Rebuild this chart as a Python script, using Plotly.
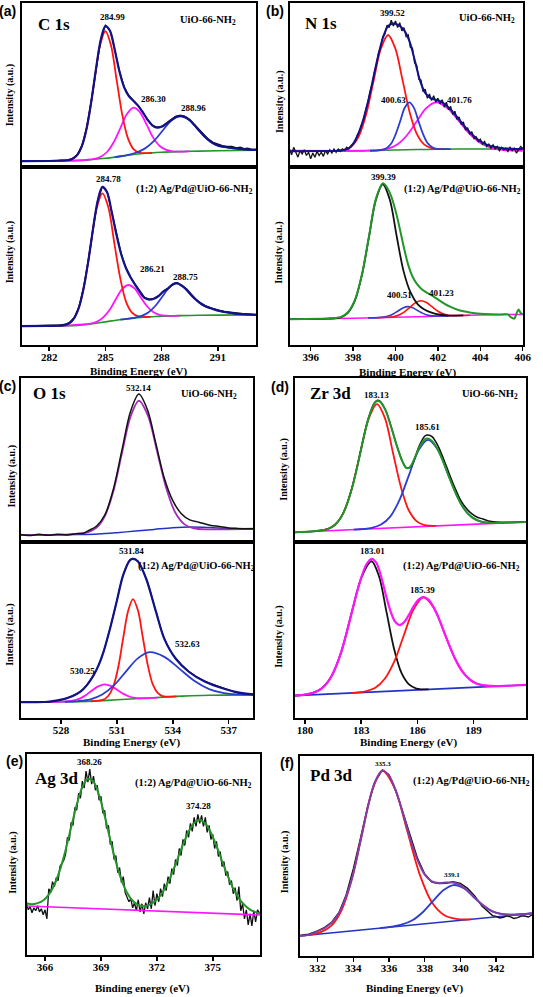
import plotly.graph_objects as go

# ---------------- (a) C 1s : UiO-66-NH2 (top) ----------------
A1_BASE_E = [280.53, 283.0, 284.0, 285.0, 286.0, 287.0, 288.0, 289.0, 290.0, 291.0, 293.05]
A1_BASE_Y = [3.6, 3.8, 4.2, 5.3, 6.8, 8.2, 9.0, 9.4, 9.7, 9.9, 10.3]
A1_RED_E = [282.5, 283.2, 283.5, 283.8, 284.1, 284.4, 284.7, 285.0, 285.3, 285.6, 285.9, 286.2, 286.5, 286.8, 287.5]
A1_RED_Y = [3.8, 4.8, 7.4, 14.6, 29.5, 51.6, 73.4, 82.8, 74.1, 53.1, 31.8, 17.6, 10.9, 8.8, 8.6]
A1_MAG_E = [280.53, 283.5, 284.4, 284.75, 285.1, 285.45, 285.8, 286.15, 286.5, 286.85, 287.2, 287.55, 287.9, 288.25, 288.6, 289.5]
A1_MAG_Y = [3.6, 4.0, 4.9, 6.3, 9.3, 15.2, 23.7, 32.3, 36.2, 33.3, 25.8, 17.9, 12.8, 10.4, 9.5, 9.55]
A1_BLUE_E = [285.5, 286.15, 286.62, 287.1, 287.57, 288.05, 288.52, 289.0, 289.48, 289.95, 290.43, 290.9, 291.38, 291.85, 292.5, 293.05]
A1_BLUE_Y = [6.0, 7.2, 8.7, 11.2, 15.6, 22.1, 28.3, 31.0, 28.7, 22.9, 17.0, 13.5, 12.2, 11.3, 10.6, 10.4]
A1_ENV_E = [280.53, 282.5, 283.0, 283.25, 283.5, 283.75, 284.0, 284.25, 284.5, 284.75, 285.0, 285.25, 285.5, 285.75, 286.0,
            286.25, 286.5, 286.75, 287.0, 287.25, 287.5, 287.75, 288.0, 288.25, 288.5, 288.75, 289.0, 289.25, 289.5,
            289.75, 290.0, 290.25, 290.5, 290.75, 291.0, 291.25, 291.5, 292.0, 292.5, 293.05]
A1_ENV_Y = [3.6, 3.8, 4.1, 5.0, 7.4, 12.9, 23.6, 40.2, 60.0, 77.5, 85.9, 82.9, 71.4, 58.2, 48.6,
            43.3, 40.3, 37.3, 33.3, 28.8, 25.4, 24.0, 24.5, 26.3, 28.5, 30.4, 31.0, 30.4, 28.55,
            25.55, 22.3, 19.15, 16.5, 14.45, 13.2, 12.45, 12.0, 11.3, 10.8, 10.6]
A1_DATA_E = [280.53, 282.5, 283.0, 283.25, 283.5, 283.75, 284.0, 284.25, 284.5, 284.75, 285.0, 285.25, 285.5, 285.75, 286.0,
             286.25, 286.5, 286.75, 287.0, 287.25, 287.5, 287.75, 288.0, 288.25, 288.5, 288.75, 289.0, 289.25, 289.5,
             289.75, 290.0, 290.25, 290.5, 290.75, 291.0, 291.25, 291.5, 291.75, 292.0, 292.2, 292.4, 292.6, 292.8, 293.05]
A1_DATA_Y = [3.4, 3.9, 4.2, 5.1, 7.5, 13.0, 23.8, 40.5, 60.3, 77.8, 86.4, 83.2, 71.6, 58.5, 48.9,
             43.6, 40.5, 37.6, 33.5, 29.0, 25.6, 24.2, 24.7, 26.5, 28.8, 30.8, 31.5, 30.8, 29.0,
             26.0, 22.8, 19.6, 17.0, 15.0, 13.9, 13.0, 12.6, 12.5, 11.6, 12.0, 11.2, 11.4, 10.7, 10.6]

# ---------------- (a) C 1s : (1:2) Ag/Pd@UiO-66-NH2 (bottom) ----------------
A2_BASE_E = [280.53, 282.0, 283.0, 283.5, 284.0, 284.5, 285.0, 285.5, 286.0, 286.5, 287.0, 287.5, 288.0, 289.0, 290.0, 291.0, 293.05]
A2_BASE_Y = [10.6, 10.7, 10.8, 11.0, 11.5, 12.2, 13.0, 13.8, 14.5, 15.1, 15.6, 15.9, 16.2, 16.5, 16.7, 16.8, 16.9]
A2_RED_E = [282.3, 282.95, 283.26, 283.58, 283.89, 284.21, 284.52, 284.84, 285.16, 285.47, 285.79, 286.1, 286.42, 286.73, 287.4]
A2_RED_Y = [10.7, 11.6, 14.1, 20.9, 34.9, 55.7, 76.1, 85.2, 77.2, 57.7, 37.7, 24.4, 18.2, 16.2, 15.85]
A2_MAG_E = [282.5, 284.2, 284.53, 284.87, 285.21, 285.54, 285.87, 286.21, 286.55, 286.88, 287.21, 287.55, 287.89, 288.22, 289.0]
A2_MAG_Y = [10.75, 12.0, 13.0, 15.4, 19.5, 25.4, 31.1, 33.7, 31.9, 26.9, 21.9, 18.5, 16.9, 16.45, 16.5]
A2_BLUE_E = [285.8, 286.54, 286.91, 287.29, 287.66, 288.04, 288.41, 288.79, 289.17, 289.54, 289.92, 290.29, 290.67, 291.04, 291.5, 292.0, 292.5, 293.05]
A2_BLUE_Y = [14.3, 15.3, 16.25, 18.25, 21.9, 27.2, 32.45, 34.65, 32.6, 28.5, 24.6, 22.0, 20.5, 19.3, 18.3, 17.6, 17.2, 17.0]
A2_ENV_E = [280.53, 281.84, 282.34, 282.59, 282.84, 283.09, 283.34, 283.59, 283.84, 284.09, 284.34, 284.59, 284.84, 285.09,
            285.34, 285.59, 285.84, 286.09, 286.34, 286.59, 286.84, 287.09, 287.34, 287.59, 287.84, 288.09, 288.34, 288.59,
            288.84, 289.09, 289.34, 289.59, 289.84, 290.09, 290.34, 290.59, 290.84, 291.09, 291.34, 291.59, 291.84, 292.34,
            292.84, 293.05]
A2_ENV_Y = [10.6, 10.7, 10.8, 10.9, 11.3, 12.35, 15.2, 21.2, 32.0, 47.3, 65.2, 81.0, 88.8, 85.8,
            74.55, 61.9, 51.15, 43.4, 38.1, 33.8, 29.8, 26.5, 25.5, 26.0, 27.5, 30.0, 31.65, 34.0,
            34.7, 33.2, 31.1, 28.0, 25.4, 23.3, 21.8, 20.8, 19.9, 19.2, 18.65, 18.2, 17.8, 17.3,
            17.05, 17.0]
A2_DATA_Y = [10.5, 10.8, 11.0, 11.3, 11.5, 12.6, 15.4, 21.4, 32.2, 47.5, 65.4, 81.2, 89.0, 86.0,
             74.8, 62.1, 51.3, 43.6, 38.3, 34.0, 30.0, 26.7, 25.7, 26.2, 27.7, 30.2, 31.8, 34.2,
             35.0, 33.5, 31.3, 28.2, 25.6, 23.5, 22.0, 21.0, 20.1, 19.4, 18.8, 18.5, 17.9, 17.6,
             17.2, 16.9]

# ---------------- (b) N 1s : UiO-66-NH2 (top) ----------------
B1_BASE_E = [395.0, 397.0, 398.0, 399.0, 400.0, 401.0, 402.0, 403.0, 406.0]
B1_BASE_Y = [9.6, 9.7, 9.8, 10.0, 10.3, 10.6, 10.8, 11.0, 11.0]
B1_MAG_E = [395.0, 398.5, 399.2, 399.65, 400.1, 400.55, 401.0, 401.45, 401.9, 402.45, 403.0, 403.55, 404.1, 404.65, 405.2, 406.0]
B1_MAG_Y = [9.9, 9.9, 10.2, 11.2, 13.9, 19.5, 27.8, 35.9, 39.4, 35.9, 27.8, 19.5, 13.9, 11.2, 10.2, 9.9]
B1_RED_E = [396.9, 397.61, 397.95, 398.29, 398.63, 398.97, 399.31, 399.65, 399.99, 400.33, 400.67, 401.01, 401.35, 401.69, 402.4]
B1_RED_Y = [9.7, 10.55, 12.9, 19.35, 32.7, 52.7, 72.1, 80.5, 72.3, 53.1, 33.3, 20.1, 13.8, 11.55, 10.9]
B1_BLUE_E = [398.8, 399.36, 399.57, 399.79, 400.0, 400.22, 400.43, 400.65, 400.87, 401.08, 401.3, 401.51, 401.73, 401.94, 402.6]
B1_BLUE_Y = [9.9, 10.4, 11.5, 14.15, 19.7, 27.85, 35.95, 39.4, 36.05, 28.1, 20.1, 14.65, 12.1, 11.1, 10.9]
B1_ENV_E = [395.0, 396.65, 397.15, 397.4, 397.65, 397.9, 398.15, 398.4, 398.65, 398.9, 399.15, 399.4, 399.65, 399.9,
            400.15, 400.4, 400.65, 400.9, 401.15, 401.4, 401.65, 401.9, 402.15, 402.4, 402.65, 402.9, 403.15, 403.4,
            403.65, 403.9, 404.15, 404.4, 404.65, 404.9, 405.15, 405.4, 405.65, 406.0]
B1_ENV_Y = [9.6, 9.7, 9.8, 10.05, 10.65, 12.4, 17.5, 25.5, 37.0, 51.0, 66.0, 78.5, 86.0, 87.5,
            86.5, 83.5, 77.0, 65.5, 53.0, 45.2, 42.0, 41.0, 39.85, 37.5, 34.35, 30.5, 26.5, 22.6,
            19.3, 16.6, 14.6, 13.2, 12.3, 11.7, 11.35, 11.2, 11.05, 11.0]
B1_DATA_E = [395.0, 395.1, 395.2, 395.3, 395.4, 395.5, 395.6, 395.7, 395.8, 395.9,
             396.0, 396.1, 396.2, 396.3, 396.4, 396.5, 396.6, 396.7, 396.8, 396.9,
             397.0, 397.1, 397.2, 397.3, 397.4, 397.5, 397.6, 397.7, 397.8, 397.9,
             398.0, 398.1, 398.2, 398.3, 398.4, 398.5, 398.6, 398.7, 398.8, 398.9,
             399.0, 399.1, 399.2, 399.3, 399.4, 399.5, 399.6, 399.7, 399.8, 399.9,
             400.0, 400.1, 400.2, 400.3, 400.4, 400.5, 400.6, 400.7, 400.8, 400.9,
             401.0, 401.1, 401.2, 401.3, 401.4, 401.5, 401.6, 401.7, 401.8, 401.9,
             402.0, 402.1, 402.2, 402.3, 402.4, 402.5, 402.6, 402.7, 402.8, 402.9,
             403.0, 403.1, 403.2, 403.3, 403.4, 403.5, 403.6, 403.7, 403.8, 403.9,
             404.0, 404.1, 404.2, 404.3, 404.4, 404.5, 404.6, 404.7, 404.8, 404.9,
             405.0, 405.1, 405.2, 405.3, 405.4, 405.5, 405.6, 405.7, 405.8, 405.9,
             406.0]
B1_DATA_Y = [11.0, 7.5, 12.0, 8.5, 6.0, 10.0, 8.0, 10.5, 7.0, 9.0,
             5.0, 8.5, 6.0, 9.5, 7.0, 9.0, 6.5, 10.0, 8.0, 10.5,
             8.5, 11.0, 9.0, 11.0, 9.5, 11.0, 10.0, 12.0, 11.0, 13.0,
             14.5, 15.5, 19.5, 21.5, 26.0, 29.0, 35.0, 39.5, 46.0, 50.5,
             57.5, 62.5, 69.5, 73.0, 79.5, 81.0, 86.5, 85.0, 89.5, 86.0,
             89.0, 85.0, 88.0, 83.0, 85.0, 79.5, 80.5, 73.0, 72.5, 63.5,
             62.0, 53.5, 53.0, 46.0, 47.5, 42.0, 44.5, 40.5, 43.5, 39.5,
             42.0, 38.5, 41.0, 36.5, 39.5, 35.0, 37.0, 32.0, 34.0, 29.0,
             30.5, 26.0, 27.5, 22.5, 24.0, 20.0, 21.5, 17.5, 18.5, 15.5,
             17.0, 14.0, 15.5, 12.5, 14.0, 11.5, 13.5, 11.0, 12.5, 10.0,
             12.0, 10.5, 11.5, 9.5, 12.0, 10.0, 11.5, 8.5, 10.5, 12.5,
             11.5]

# ---------------- (b) N 1s : (1:2) Ag/Pd@UiO-66-NH2 (bottom) ----------------
B2_BASE_E = [395.0, 398.0, 399.0, 400.0, 401.0, 402.0, 403.0, 404.0, 406.0]
B2_BASE_Y = [14.5, 15.0, 15.3, 15.6, 15.9, 16.2, 16.6, 16.9, 17.2]
B2_BLACK_E = [395.0, 396.8, 397.44, 397.76, 398.09, 398.42, 398.75, 399.07, 399.4, 399.73, 400.05, 400.38, 400.71, 401.04, 401.36, 401.7, 402.1, 402.5, 403.2]
B2_BLACK_Y = [14.5, 14.8, 15.7, 18.25, 25.1, 39.5, 60.7, 81.4, 90.3, 81.7, 61.5, 41.5, 29.5, 23.0, 20.0, 18.2, 17.0, 16.5, 16.6]
B2_BLUE_E = [398.7, 399.2, 399.43, 399.66, 399.89, 400.12, 400.35, 400.58, 400.81, 401.04, 401.27, 401.5, 401.73, 401.96, 402.5]
B2_BLUE_Y = [15.2, 15.36, 15.66, 16.23, 17.4, 19.1, 20.8, 21.55, 20.9, 19.4, 17.9, 16.83, 16.36, 16.26, 16.35]
B2_RED_E = [399.1, 399.64, 399.9, 400.16, 400.42, 400.68, 400.94, 401.2, 401.46, 401.72, 401.98, 402.24, 402.5, 402.76, 403.5]
B2_RED_Y = [15.35, 15.55, 15.9, 16.8, 18.6, 21.2, 23.7, 24.85, 23.9, 21.5, 19.1, 17.5, 16.75, 16.55, 16.75]
B2_ENV_E = [395.0, 396.5, 397.0, 397.44, 397.76, 398.09, 398.42, 398.75, 399.07, 399.4, 399.6, 399.8, 400.0, 400.2,
            400.4, 400.6, 400.8, 401.0, 401.2, 401.4, 401.6, 401.8, 402.0, 402.3, 402.6, 403.0, 403.5, 404.0,
            404.5, 405.0, 405.3, 405.45, 405.6, 405.7, 405.8, 405.9, 406.0]
B2_ENV_Y = [14.5, 14.7, 14.9, 15.8, 18.4, 25.3, 39.7, 61.0, 81.8, 90.8, 88.5, 83.5, 75.5, 65.5,
            54.5, 45.0, 38.5, 34.5, 31.8, 30.0, 28.6, 27.2, 25.6, 23.3, 21.4, 19.5, 18.3, 17.6,
            17.3, 17.2, 17.2, 15.5, 14.8, 17.5, 20.0, 18.0, 17.3]

# ---------------- (c) O 1s : UiO-66-NH2 (top) ----------------
C1_BASE_E = [525.83, 529.0, 530.0, 531.0, 532.0, 533.0, 534.0, 535.0, 536.0, 537.0, 538.32]
C1_BASE_Y = [4.0, 4.3, 4.6, 5.4, 6.4, 7.4, 8.4, 8.8, 8.5, 8.0, 7.8]
C1_FIT_E = [525.83, 528.5, 529.45, 529.91, 530.36, 530.82, 531.27, 531.73, 532.18, 532.67, 533.16, 533.65, 534.14, 534.63, 535.12, 536.0, 538.32]
C1_FIT_Y = [4.0, 4.4, 5.8, 8.5, 15.75, 31.25, 54.05, 76.35, 86.1, 76.8, 54.95, 32.6, 17.55, 10.45, 8.0, 7.4, 7.8]
C1_DATA_E = [525.83, 526.3, 526.8, 527.3, 527.8, 528.3, 528.8, 529.2, 529.45, 529.91, 530.36, 530.82, 531.27, 531.73,
             532.18, 532.64, 533.09, 533.55, 534.0, 534.46, 534.91, 535.4, 536.0, 536.5, 537.0, 537.5, 538.32]
C1_DATA_Y = [4.3, 3.6, 4.4, 3.8, 4.5, 4.0, 4.8, 5.0, 6.5, 9.5, 16.5, 32.5, 56.0, 79.5,
             90.2, 80.5, 60.0, 38.5, 25.0, 17.0, 13.2, 11.8, 10.0, 9.2, 8.3, 8.0, 7.8]

# ---------------- (c) O 1s : (1:2) Ag/Pd@UiO-66-NH2 (bottom) ----------------
C2_BASE_E = [525.83, 528.0, 529.0, 530.0, 531.0, 532.0, 533.0, 534.0, 535.0, 536.0, 538.32]
C2_BASE_Y = [9.0, 9.2, 9.3, 9.7, 10.3, 10.9, 11.5, 12.1, 12.6, 12.9, 13.1]
C2_RED_E = [529.6, 530.27, 530.53, 530.8, 531.07, 531.33, 531.6, 531.86, 532.13, 532.39, 532.66, 532.92, 533.19, 533.45, 534.2]
C2_RED_Y = [9.5, 10.4, 12.45, 17.7, 28.75, 44.9, 60.6, 67.4, 60.85, 45.6, 29.8, 19.15, 14.2, 12.4, 12.2]
C2_BLUE_E = [528.2, 528.94, 529.58, 530.21, 530.85, 531.48, 532.12, 532.75, 533.55, 534.35, 535.15, 535.95, 536.75, 537.55, 538.32]
C2_BLUE_Y = [9.2, 9.6, 10.6, 13.3, 18.6, 26.3, 33.8, 37.3, 34.65, 28.0, 21.1, 16.4, 14.1, 13.35, 13.15]
C2_MAG_E = [527.2, 528.18, 528.54, 528.89, 529.25, 529.6, 529.96, 530.31, 530.67, 531.02, 531.38, 531.73, 532.09, 532.44, 533.2]
C2_MAG_Y = [9.1, 9.3, 9.65, 10.5, 12.4, 15.1, 17.75, 19.1, 18.2, 15.9, 13.5, 11.9, 11.3, 11.2, 11.6]
C2_ENV_E = [525.83, 527.28, 528.16, 528.6, 529.04, 529.4, 529.75, 530.0, 530.28, 530.63, 530.98, 531.33, 531.69, 531.86,
            532.13, 532.57, 533.1, 533.54, 534.15, 534.86, 535.74, 536.8, 537.5, 538.32]
C2_ENV_Y = [9.0, 9.2, 10.7, 12.3, 14.9, 18.8, 24.3, 29.5, 37.5, 50.7, 65.7, 80.8, 89.3, 90.2,
            88.7, 78.9, 60.1, 45.0, 33.7, 26.2, 20.5, 16.4, 14.5, 13.4]
C2_DATA_Y = [9.2, 9.0, 10.9, 12.5, 15.0, 18.9, 24.4, 29.6, 37.6, 50.8, 65.8, 80.9, 89.5, 90.4,
             88.9, 79.0, 60.3, 45.2, 33.9, 26.4, 20.8, 16.7, 14.2, 13.6]

# ---------------- (d) Zr 3d : UiO-66-NH2 (top) ----------------
D1_BASE_E = [179.44, 191.81]
D1_BASE_Y = [5.7, 12.0]
D1_RED_E = [180.6, 181.14, 181.59, 182.04, 182.49, 182.94, 183.39, 183.84, 184.27, 184.69, 185.12, 185.54, 185.97, 186.39, 187.0]
D1_RED_Y = [6.3, 7.4, 10.1, 17.3, 31.95, 53.7, 74.8, 84.0, 75.3, 54.6, 33.3, 19.1, 12.3, 10.0, 9.6]
D1_BLUE_E = [182.6, 183.56, 184.06, 184.56, 185.06, 185.56, 186.06, 186.56, 187.09, 187.61, 188.14, 188.66, 189.19, 189.71, 190.6]
D1_BLUE_Y = [7.3, 8.4, 10.35, 15.4, 25.8, 40.9, 55.8, 62.2, 56.3, 42.0, 27.3, 17.5, 13.0, 11.5, 11.4]
D1_ENV_E = [179.44, 180.5, 181.0, 181.3, 181.6, 181.9, 182.2, 182.5, 182.8, 183.1, 183.4, 183.7, 183.84, 184.0,
            184.3, 184.6, 184.9, 185.2, 185.4, 185.6, 185.8, 186.1, 186.4, 186.56, 186.8, 187.1, 187.4, 187.7,
            188.0, 188.3, 188.6, 188.9, 189.2, 189.5, 189.8, 190.2, 190.8, 191.81]
D1_ENV_Y = [5.7, 6.3, 7.0, 8.05, 10.2, 14.35, 21.6, 32.4, 46.4, 62.1, 75.8, 84.4, 85.9, 85.6,
            80.2, 70.0, 58.5, 49.0, 45.0, 45.5, 49.5, 57.5, 62.5, 63.0, 61.25, 56.0, 48.2, 39.2,
            30.8, 23.6, 18.4, 14.9, 13.0, 11.9, 11.4, 11.3, 11.5, 12.0]
D1_DATA_Y = [5.5, 6.2, 7.1, 8.0, 10.3, 14.4, 21.8, 32.6, 46.6, 62.3, 76.0, 84.7, 86.3, 85.9,
             80.4, 70.2, 58.8, 49.0, 45.2, 45.2, 49.0, 58.5, 64.5, 65.2, 64.0, 58.5, 50.5, 41.5,
             33.0, 25.5, 20.5, 17.0, 14.8, 13.8, 12.6, 12.0, 11.7, 12.1]

# ---------------- (d) Zr 3d : (1:2) Ag/Pd@UiO-66-NH2 (bottom) ----------------
D2_BASE_E = [179.44, 191.81]
D2_BASE_Y = [12.7, 18.75]
D2_BLACK_E = [179.44, 180.34, 180.88, 181.41, 181.95, 182.48, 183.02, 183.55, 183.95, 184.35, 184.75, 185.15, 185.55, 185.95, 186.6]
D2_BLACK_Y = [12.7, 13.95, 16.7, 23.66, 38.0, 59.2, 79.85, 88.8, 80.3, 60.1, 39.4, 25.5, 19.0, 16.7, 16.2]
D2_RED_E = [182.5, 183.23, 183.75, 184.26, 184.78, 185.29, 185.81, 186.32, 186.88, 187.44, 188.0, 188.56, 189.12, 189.68, 190.5]
D2_RED_Y = [14.2, 15.15, 17.1, 22.2, 32.3, 47.3, 61.9, 68.4, 62.4, 48.3, 33.9, 24.3, 19.7, 18.3, 18.1]
D2_ENV_E = [179.44, 180.0, 180.34, 180.61, 180.88, 181.15, 181.41, 181.68, 181.95, 182.22, 182.48, 182.75, 183.02, 183.28,
            183.55, 183.8, 184.05, 184.3, 184.55, 184.8, 185.05, 185.3, 185.55, 185.8, 186.05, 186.32, 186.6, 186.88,
            187.16, 187.44, 187.72, 188.0, 188.28, 188.56, 188.84, 189.12, 189.4, 189.68, 190.2, 190.8, 191.81]
D2_ENV_Y = [12.7, 13.27, 13.95, 14.97, 16.7, 19.5, 23.66, 29.9, 38.0, 48.3, 59.2, 70.4, 80.15, 87.1,
            90.2, 88.0, 80.6, 70.3, 61.0, 54.7, 52.65, 54.4, 58.5, 63.2, 66.9, 68.55, 66.9, 62.4,
            56.0, 48.3, 40.75, 33.9, 28.3, 24.3, 21.5, 19.7, 18.8, 18.3, 18.05, 18.25, 18.75]

# ---------------- (e) Ag 3d ----------------
E_BASE_E = [365.0, 377.54]
E_BASE_Y = [24.4, 19.9]
E_FIT_E = [365.0, 365.3, 365.6, 365.9, 366.2, 366.5, 366.8, 367.1, 367.4, 367.7,
           368.0, 368.3, 368.6, 368.9, 369.2, 369.5, 369.8, 370.1, 370.4, 370.7,
           371.0, 371.3, 371.6, 371.9, 372.2, 372.5, 372.8, 373.1, 373.4, 373.7,
           374.0, 374.3, 374.6, 374.9, 375.2, 375.5, 375.8, 376.1, 376.4, 376.7,
           377.0, 377.3, 377.54]
E_FIT_Y = [25.8, 25.2, 25.8, 27.1, 30.0, 34.95, 42.35, 52.15, 63.55, 74.8,
           83.5, 87.7, 86.2, 79.5, 69.1, 57.3, 46.3, 37.4, 31.0, 27.0,
           24.9, 24.3, 24.9, 26.7, 29.7, 34.3, 40.4, 47.5, 54.9, 61.3,
           65.7, 67.2, 65.45, 60.85, 54.25, 46.65, 39.35, 33.0, 28.2, 24.9,
           22.6, 21.3, 20.6]
E_DATA_E = [365.0, 365.1, 365.2, 365.3, 365.4, 365.5, 365.6, 365.7, 365.8, 365.9,
            366.0, 366.1, 366.2, 366.3, 366.4, 366.5, 366.6, 366.7, 366.8, 366.9,
            367.0, 367.1, 367.2, 367.3, 367.4, 367.5, 367.6, 367.7, 367.8, 367.9,
            368.0, 368.1, 368.2, 368.3, 368.4, 368.5, 368.6, 368.7, 368.8, 368.9,
            369.0, 369.1, 369.2, 369.3, 369.4, 369.5, 369.6, 369.7, 369.8, 369.9,
            370.0, 370.1, 370.2, 370.3, 370.4, 370.5, 370.6, 370.7, 370.8, 370.9,
            371.0, 371.1, 371.2, 371.3, 371.4, 371.5, 371.6, 371.7, 371.8, 371.9,
            372.0, 372.1, 372.2, 372.3, 372.4, 372.5, 372.6, 372.7, 372.8, 372.9,
            373.0, 373.1, 373.2, 373.3, 373.4, 373.5, 373.6, 373.7, 373.8, 373.9,
            374.0, 374.1, 374.2, 374.3, 374.4, 374.5, 374.6, 374.7, 374.8, 374.9,
            375.0, 375.1, 375.2, 375.3, 375.4, 375.5, 375.6, 375.7, 375.8, 375.9,
            376.0, 376.1, 376.2, 376.3, 376.4, 376.5, 376.6, 376.7, 376.8, 376.9,
            377.0, 377.1, 377.2, 377.3, 377.4, 377.5]
E_DATA_Y = [26.0, 22.5, 24.0, 21.0, 23.5, 22.0, 24.5, 21.5, 23.0, 20.0,
            22.5, 18.0, 33.0, 31.0, 36.5, 34.0, 38.5, 37.0, 44.0, 45.5,
            47.0, 50.0, 58.5, 57.0, 66.0, 64.5, 73.5, 72.0, 80.5, 78.0,
            86.5, 83.0, 91.5, 86.0, 92.5, 85.0, 89.0, 82.0, 84.5, 77.0,
            79.0, 70.5, 72.0, 63.0, 64.5, 55.0, 56.5, 47.5, 49.5, 41.0,
            43.5, 36.0, 39.0, 31.0, 29.0, 26.5, 28.0, 23.5, 26.0, 22.0,
            27.5, 21.5, 25.5, 20.5, 26.0, 23.0, 28.5, 23.0, 32.0, 24.5,
            30.5, 26.5, 33.0, 29.0, 35.5, 32.0, 39.0, 35.5, 43.0, 40.0,
            47.5, 44.5, 53.0, 49.5, 57.5, 54.5, 62.0, 58.5, 65.5, 61.5,
            68.5, 64.0, 70.0, 65.5, 69.5, 64.0, 68.5, 61.0, 64.5, 57.5,
            60.0, 53.0, 56.5, 49.0, 51.5, 44.0, 46.5, 39.5, 41.5, 35.0,
            37.0, 30.5, 33.5, 27.0, 34.0, 22.0, 25.5, 18.0, 22.5, 15.0,
            20.5, 14.5, 22.0, 16.5, 22.5, 21.0]

# ---------------- (f) Pd 3d ----------------
F_BASE_E = [330.99, 344.0]
F_BASE_Y = [10.0, 21.3]
F_RED_E = [331.5, 332.18, 332.76, 333.33, 333.91, 334.48, 335.06, 335.63, 336.32, 337.01, 337.7, 338.39, 339.08, 339.77, 340.6]
F_RED_Y = [10.5, 11.93, 15.03, 22.62, 38.03, 60.62, 82.73, 92.53, 83.83, 62.83, 41.32, 27.02, 20.52, 18.52, 18.3]
F_BLUE_E = [335.5, 336.16, 336.74, 337.31, 337.89, 338.46, 339.04, 339.61, 340.19, 340.76, 341.34, 341.91, 342.49, 343.06, 344.0]
F_BLUE_Y = [13.9, 14.69, 15.79, 17.89, 21.89, 27.39, 32.89, 35.48, 33.89, 29.38, 24.88, 21.88, 20.78, 20.68, 21.3]
F_ENV_E = [330.99, 331.5, 332.0, 332.4, 332.8, 333.2, 333.6, 334.0, 334.4, 334.8, 335.2, 335.63, 336.0, 336.4,
           336.8, 337.2, 337.6, 338.0, 338.4, 338.8, 339.2, 339.6, 340.0, 340.4, 340.8, 341.2, 341.6, 342.0,
           342.4, 342.8, 343.2, 343.6, 344.0]
F_ENV_Y = [10.0, 10.55, 12.3, 14.0, 16.8, 21.5, 29.8, 41.3, 57.3, 73.8, 86.85, 92.8, 90.2, 82.3,
           70.75, 58.4, 47.9, 40.7, 37.35, 36.5, 36.7, 36.7, 35.3, 32.6, 29.0, 25.8, 23.2, 21.65,
           20.9, 20.65, 20.75, 21.0, 21.3]
F_DATA_E = [330.99, 331.5, 332.0, 332.4, 332.8, 333.2, 333.6, 334.0, 334.4, 334.8, 335.2, 335.63, 336.0, 336.4,
            336.8, 337.2, 337.6, 338.0, 338.4, 338.8, 339.2, 339.6, 340.0, 340.4, 340.8, 341.2, 341.6, 341.8,
            342.0, 342.2, 342.4, 342.6, 342.8, 343.0, 343.2, 343.4, 343.6, 343.8, 344.0]
F_DATA_Y = [10.3, 10.9, 12.6, 14.3, 17.0, 21.8, 30.5, 43.5, 58.8, 74.5, 86.8, 93.0, 90.6, 82.0,
            71.3, 59.5, 48.8, 41.0, 37.0, 36.2, 36.4, 37.2, 36.3, 33.8, 30.0, 25.0, 21.6, 20.2,
            19.8, 19.0, 19.3, 20.1, 19.6, 18.8, 19.2, 20.0, 20.0, 19.5, 20.5]

# tick values
A_TICKS = [282, 285, 288, 291]
B_TICKS = [396, 398, 400, 402, 404, 406]
C_TICKS = [528, 531, 534, 537]
D_TICKS = [180, 183, 186, 189]
E_TICKS = [366, 369, 372, 375]
F_TICKS = [332, 334, 336, 338, 340, 342]

# ------------------------------------------------------------------
W, H = 543, 997
SERIF = "Liberation Serif"
SANS = "Liberation Sans"
NAVY = "#12128a"
RED = "#ff1414"
MAG = "#ff14ff"
BLUE = "#2a3cd2"
GREEN = "#22962a"
BLACK = "#111111"
PURPLE = "#a22fb8"
VIOLET = "#7f3fa8"
BASEBLUE = "#2233c4"


def px_x(p):
    return p / W


def px_y(p):
    return 1 - p / H


# n: (x px domain, y px domain (top, bottom), x range, tick values)
PANELS = {
    1: ((22, 260), (3, 167), (280.53, 293.05), None),
    2: ((22, 260), (167, 345), (280.53, 293.05), A_TICKS),
    3: ((294, 531), (3, 167), (395.01, 406.02), None),
    4: ((294, 531), (167, 345), (395.01, 406.02), B_TICKS),
    5: ((21, 257), (378, 541.5), (525.83, 538.32), None),
    6: ((21, 257), (541.5, 718), (525.83, 538.32), C_TICKS),
    7: ((299, 534), (378, 541.5), (179.44, 191.81), None),
    8: ((299, 534), (541.5, 718), (179.44, 191.81), D_TICKS),
    9: ((27, 264), (754, 955), (365.01, 377.54), E_TICKS),
    10: ((304, 540), (756, 956), (330.99, 344.01), F_TICKS),
}

fig = go.Figure()


def ids(n):
    return ("x" if n == 1 else f"x{n}"), ("y" if n == 1 else f"y{n}")


def add_line(n, xs, ys, color, width, shape="spline"):
    xa, ya = ids(n)
    ln = dict(color=color, width=width, shape=shape)
    if shape == "spline":
        ln["smoothing"] = 0.9
    fig.add_trace(go.Scatter(x=xs, y=ys, xaxis=xa, yaxis=ya, mode="lines", line=ln,
                             showlegend=False, hoverinfo="skip"))


# (a) top
add_line(1, A1_BASE_E, A1_BASE_Y, GREEN, 1.6)
add_line(1, A1_MAG_E, A1_MAG_Y, MAG, 1.8)
add_line(1, A1_RED_E, A1_RED_Y, RED, 1.8)
add_line(1, A1_BLUE_E, A1_BLUE_Y, BLUE, 1.8)
add_line(1, A1_DATA_E, A1_DATA_Y, BLACK, 1.4, "linear")
add_line(1, A1_ENV_E, A1_ENV_Y, NAVY, 2.2)
# (a) bottom
add_line(2, A2_BASE_E, A2_BASE_Y, GREEN, 1.6)
add_line(2, A2_MAG_E, A2_MAG_Y, MAG, 1.8)
add_line(2, A2_RED_E, A2_RED_Y, RED, 1.8)
add_line(2, A2_BLUE_E, A2_BLUE_Y, BLUE, 1.8)
add_line(2, A2_ENV_E, A2_DATA_Y, BLACK, 1.4, "linear")
add_line(2, A2_ENV_E, A2_ENV_Y, NAVY, 2.2)
# (b) top
add_line(3, B1_BASE_E, B1_BASE_Y, GREEN, 1.5)
add_line(3, B1_MAG_E, B1_MAG_Y, MAG, 1.8)
add_line(3, B1_RED_E, B1_RED_Y, RED, 1.8)
add_line(3, B1_BLUE_E, B1_BLUE_Y, BLUE, 1.8)
add_line(3, B1_DATA_E, B1_DATA_Y, BLACK, 1.3, "linear")
add_line(3, B1_ENV_E, B1_ENV_Y, NAVY, 2.0)
# (b) bottom
add_line(4, B2_BASE_E, B2_BASE_Y, MAG, 1.5)
add_line(4, B2_BLUE_E, B2_BLUE_Y, BLUE, 1.6)
add_line(4, B2_RED_E, B2_RED_Y, RED, 1.6)
add_line(4, B2_BLACK_E, B2_BLACK_Y, BLACK, 1.8)
add_line(4, B2_ENV_E, B2_ENV_Y, GREEN, 2.0)
# (c) top
add_line(5, C1_BASE_E, C1_BASE_Y, BASEBLUE, 1.5)
add_line(5, C1_FIT_E, C1_FIT_Y, PURPLE, 1.8)
add_line(5, C1_DATA_E, C1_DATA_Y, BLACK, 1.5)
# (c) bottom
add_line(6, C2_BASE_E, C2_BASE_Y, GREEN, 1.6)
add_line(6, C2_MAG_E, C2_MAG_Y, MAG, 1.8)
add_line(6, C2_RED_E, C2_RED_Y, RED, 1.8)
add_line(6, C2_BLUE_E, C2_BLUE_Y, BLUE, 1.8)
add_line(6, C2_ENV_E, C2_DATA_Y, BLACK, 1.3)
add_line(6, C2_ENV_E, C2_ENV_Y, NAVY, 2.2)
# (d) top
add_line(7, D1_BASE_E, D1_BASE_Y, MAG, 1.6, "linear")
add_line(7, D1_RED_E, D1_RED_Y, RED, 1.8)
add_line(7, D1_BLUE_E, D1_BLUE_Y, BLUE, 1.8)
add_line(7, D1_ENV_E, D1_DATA_Y, BLACK, 1.5)
add_line(7, D1_ENV_E, D1_ENV_Y, GREEN, 2.0)
# (d) bottom
add_line(8, D2_BASE_E, D2_BASE_Y, BASEBLUE, 1.6, "linear")
add_line(8, D2_BLACK_E, D2_BLACK_Y, BLACK, 1.8)
add_line(8, D2_RED_E, D2_RED_Y, RED, 1.8)
add_line(8, D2_ENV_E, D2_ENV_Y, MAG, 2.2)
# (e)
add_line(9, E_DATA_E, E_DATA_Y, BLACK, 1.3, "linear")
add_line(9, E_BASE_E, E_BASE_Y, MAG, 1.6, "linear")
add_line(9, E_FIT_E, E_FIT_Y, GREEN, 2.0)
# (f)
add_line(10, F_BASE_E, F_BASE_Y, BASEBLUE, 1.6, "linear")
add_line(10, F_DATA_E, F_DATA_Y, BLACK, 1.4, "linear")
add_line(10, F_RED_E, F_RED_Y, RED, 1.8)
add_line(10, F_BLUE_E, F_BLUE_Y, BLUE, 1.8)
add_line(10, F_ENV_E, F_ENV_Y, VIOLET, 2.0)

layout = dict(width=W, height=H, margin=dict(l=0, r=0, t=0, b=0),
              paper_bgcolor="white", plot_bgcolor="white", showlegend=False)

for n, (xd, yd, xr, ticks) in PANELS.items():
    xkey = "xaxis" if n == 1 else f"xaxis{n}"
    ykey = "yaxis" if n == 1 else f"yaxis{n}"
    xa, ya = ids(n)
    xaxis = dict(domain=[px_x(xd[0]), px_x(xd[1])], range=list(xr), anchor=ya,
                 showline=True, mirror=True, linewidth=2, linecolor="black",
                 showgrid=False, zeroline=False, fixedrange=True)
    if ticks is None:
        xaxis.update(showticklabels=False, ticks="")
    else:
        xaxis.update(tickmode="array", tickvals=ticks, ticks="outside", ticklen=4,
                     tickwidth=1.5, tickcolor="black", ticklabelstandoff=-3,
                     tickfont=dict(family=SERIF, size=11, color="black", weight="bold"))
    yaxis = dict(domain=[px_y(yd[1]), px_y(yd[0])], range=[0, 100], anchor=xa,
                 showline=True, mirror=True, linewidth=2, linecolor="black",
                 showgrid=False, zeroline=False, showticklabels=False, ticks="", fixedrange=True)
    layout[xkey] = xaxis
    layout[ykey] = yaxis

ann = []


def dlabel(n, text, x, y, size, xanchor="center", family=SERIF):
    xa, ya = ids(n)
    ann.append(dict(text=f"<b>{text}</b>", x=x, y=y, xref=xa, yref=ya, showarrow=False,
                    xanchor=xanchor, yanchor="middle",
                    font=dict(family=family, size=size, color="black")))


def plabel(text, px, py, size, angle=0, family=SERIF):
    ann.append(dict(text=f"<b>{text}</b>", x=px_x(px), y=px_y(py), xref="paper", yref="paper",
                    showarrow=False, xanchor="center", yanchor="middle", textangle=angle,
                    font=dict(family=family, size=size, color="black")))


UIO = "UiO-66-NH<sub>2</sub>"
AGPD = "(1:2) Ag/Pd@UiO-66-NH<sub>2</sub>"

# (a)
dlabel(1, "C 1s", 281.27, 86.6, 17, "left")
dlabel(1, "284.99", 285.37, 91.5, 9)
dlabel(1, UIO, 290.48, 89.6, 10.5)
dlabel(1, "286.30", 287.58, 41.5, 9)
dlabel(1, "288.96", 289.69, 36.0, 9)
dlabel(2, "284.78", 285.16, 93.1, 9)
dlabel(2, AGPD, 289.74, 87.5, 10.5)
dlabel(2, "286.21", 287.53, 42.5, 9)
dlabel(2, "288.75", 289.28, 38.0, 9)
# (b)
dlabel(3, "N 1s", 395.66, 87.6, 17, "left")
dlabel(3, "399.52", 399.86, 93.7, 9)
dlabel(3, UIO, 404.32, 90.7, 10.5)
dlabel(3, "400.63", 399.89, 40.9, 9)
dlabel(3, "401.76", 403.01, 40.9, 9)
dlabel(4, "399.39", 399.43, 94.6, 9)
dlabel(4, AGPD, 403.14, 87.5, 10.5)
dlabel(4, "400.51", 400.17, 28.1, 9)
dlabel(4, "401.23", 402.18, 29.4, 9)
# (c)
dlabel(5, "O 1s", 526.4, 90.6, 17, "left")
dlabel(5, "532.14", 532.18, 93.7, 9)
dlabel(5, UIO, 535.92, 90.2, 10.5)
dlabel(6, "531.84", 531.77, 94.4, 9)
dlabel(6, AGPD, 535.25, 85.9, 10.5)
dlabel(6, "532.63", 534.77, 42.2, 9)
dlabel(6, "530.25", 529.16, 26.6, 9)
# (d)
dlabel(7, "Zr 3d", 180.13, 90.7, 17, "left")
dlabel(7, "183.13", 183.81, 89.6, 9)
dlabel(7, "185.61", 186.53, 69.9, 9)
dlabel(7, UIO, 189.86, 90.2, 10.5)
dlabel(8, "183.01", 183.58, 94.5, 9)
dlabel(8, "185.39", 186.26, 72.7, 9)
dlabel(8, AGPD, 188.37, 86.0, 10.5)
# (e)
dlabel(9, "Ag 3d", 365.34, 87.9, 17, "left")
dlabel(9, "368.26", 368.38, 96.0, 9)
dlabel(9, AGPD, 373.99, 85.4, 10.5)
dlabel(9, "374.28", 374.25, 74.0, 9)
# (f)
dlabel(10, "Pd 3d", 331.45, 90.5, 17, "left")
dlabel(10, "335.3", 335.67, 96.0, 7)
dlabel(10, AGPD, 340.62, 87.2, 10.5)
dlabel(10, "339.1", 339.52, 40.5, 7)

# axis titles
plabel("Binding Energy (eV)", 141, 371, 11)
plabel("Binding Energy (eV)", 413.7, 372.3, 11)
plabel("Binding Energy (eV)", 134, 742, 11)
plabel("Binding Energy (eV)", 415, 742, 11)
plabel("Binding energy (eV)", 145, 988.3, 11)
plabel("Binding Energy (eV)", 421.7, 988.3, 11)
for (px, py) in [(10.5, 95), (10.5, 252), (283.5, 101.7), (283.5, 252.5), (11.7, 476), (10, 634),
                 (288.5, 469.5), (283, 636), (13, 862), (289.5, 862)]:
    plabel("Intensity (a.u.)", px, py, 10, angle=-90)

# panel letters
for (t, px, py) in [("(a)", 7.5, 11), ("(b)", 279.5, 11), ("(c)", 8, 386), ("(d)", 284.5, 387),
                    ("(e)", 15, 761), ("(f)", 291, 763)]:
    plabel(t, px, py, 14, family=SANS)

layout["annotations"] = ann
fig.update_layout(**layout)
fig.write_html("out.html", config={"displayModeBar": False, "staticPlot": True},
               post_script="document.body.style.margin='0';document.body.style.overflow='hidden';")
